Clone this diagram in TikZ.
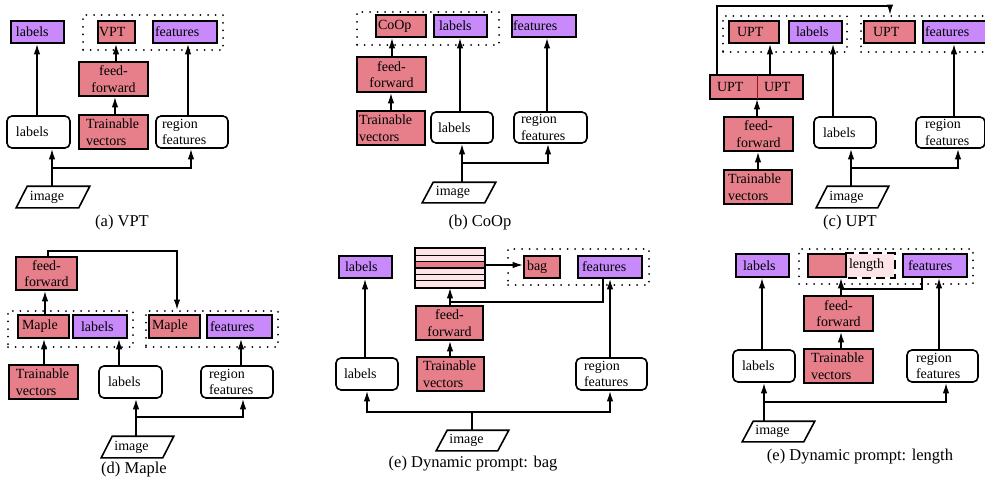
\documentclass[tikz,border=0pt]{standalone}
\usepackage{fontspec}
\setmainfont{Liberation Serif}
\usetikzlibrary{arrows.meta,calc}
\definecolor{pinkc}{HTML}{E67F8A}
\definecolor{purpc}{HTML}{C88AFA}
\definecolor{lpink}{HTML}{FCE4E8}
\definecolor{dred}{HTML}{8B1A1A}
\tikzset{
 bxbase/.style={inner ysep=0pt, align=left, font=\fontsize{14}{16.5}\selectfont, line width=1.6pt},
 pbox/.style={draw, fill=pinkc},
 vbox/.style={draw, fill=purpc},
 wbox/.style={draw, fill=white, rounded corners=5pt},
 dotbox/.style={draw, line width=2pt, dash pattern=on 0pt off 7.6pt, line cap=round},
 conn/.style={line width=1.6pt},
 arr/.style={conn, -{Latex[length=10.5pt,width=6.5pt]}},
 captxt/.style={font=\fontsize{16.5}{19}\selectfont},
}
\newcommand\bx[8][1]{%
 \pgfmathsetmacro\bxw{#6-#4-2*#1}%
 \pgfmathsetmacro\bxh{#7-#5}%
 \pgfmathsetmacro\bxx{(#4+#6)/2}%
 \pgfmathsetmacro\bxy{(#5+#7)/2}%
 \node[bxbase,#2,inner xsep=#1pt,text width=\bxw pt,minimum height=\bxh pt] (#3) at (\bxx,\bxy) {#8};}
\newcommand\imgnode[5]{%
 \bx{align=center}{#1}{#2}{#3}{#4}{#5}{\hspace*{-12pt}image}%
 \draw[conn] (#1.south west) -- ([xshift=11pt]#1.north west) -- (#1.north east) -- ([xshift=-11pt]#1.south east) -- cycle;}
\begin{document}
\hyphenpenalty=10000
\begin{tikzpicture}[x=1pt,y=-1pt]
\useasboundingbox (0,0) rectangle (985,479);
\clip (0,0) rectangle (985,479);
% ---------------- (a) VPT
\bx[5]{vbox}{labPA}{11}{21}{64}{43}{labels}
\bx{dotbox}{gA}{83}{15}{223}{50}{}
\bx[1]{pbox}{vptA}{98}{21}{135}{43}{VPT}
\bx[2]{vbox}{featA}{153}{21}{217}{43}{features}
\bx{pbox,align=center}{ffA}{79}{62}{148}{96}{feed-\\forward}
\bx[7]{pbox}{tvA}{79}{115}{148}{149}{Trainable\\vectors}
\bx[9]{wbox}{labWA}{7}{116}{70}{148}{labels}
\bx[6]{wbox}{regA}{156}{116}{228}{148}{region\\features}
\imgnode{imgA}{17}{187}{89}{207}
\draw[arr] (imgA.north -| 52,0) -- (labWA.south -| 52,0);
\draw[arr] (imgA.north -| 52,0) |- (191,168) -- (regA.south -| 191,0);
\draw[arr] (labWA.north -| 37,0) -- (labPA.south -| 37,0);
\draw[arr] (tvA.north -| 115,0) -- (ffA.south -| 115,0);
\draw[arr] (ffA.north -| 116,0) -- (vptA.south -| 116,0);
\draw[arr] (regA.north -| 188,0) -- (featA.south -| 188,0);
\node[captxt] (capA) at (122,223) {(a) VPT};
% ---------------- (b) CoOp
\bx{dotbox}{gB}{357}{12}{499}{45}{}
\bx[2]{pbox}{coB}{376}{15}{426}{37}{CoOp}
\bx[5]{vbox}{labPB}{434}{15}{487}{37}{labels}
\bx[1]{vbox}{featB}{512}{15}{576}{37}{features}
\bx{pbox,align=center}{ffB}{357}{57}{426}{92}{feed-\\forward}
\bx[2]{pbox}{tvB}{357}{111}{425}{145}{Trainable\\vectors}
\bx[7]{wbox}{labWB}{431}{112}{493}{143}{labels}
\bx[7]{wbox}{regB}{514}{112}{587}{143}{region\\features}
\imgnode{imgB}{423}{183}{495}{202}
\draw[arr] (imgB.north -| 462,0) -- (labWB.south -| 462,0);
\draw[arr] (imgB.north -| 462,0) |- (548,163) -- (regB.south -| 548,0);
\draw[arr] (labWB.north -| 460,0) -- (labPB.south -| 460,0);
\draw[arr] (regB.north -| 547,0) -- (featB.south -| 547,0);
\draw[arr] (tvB.north -| 391,0) -- (ffB.south -| 391,0);
\draw[arr] (ffB.north -| 392,0) -- (coB.south -| 392,0);
\node[captxt] (capB) at (480,223) {(b) CoOp};
% ---------------- (c) UPT
\bx{dotbox}{g1C}{723}{16}{847}{52}{}
\bx{dotbox}{g2C}{861}{16}{995}{52}{}
\bx[8]{pbox}{uptC}{729}{21}{779}{43}{UPT}
\bx[7]{vbox}{labPC}{789}{21}{842}{43}{labels}
\bx[9]{pbox}{upt2C}{864}{21}{915}{43}{UPT}
\bx[2]{vbox}{featC}{923}{21}{987}{43}{features}
\bx[6]{fill=pinkc}{upL}{711}{76}{757}{98}{UPT}
\bx[7]{fill=pinkc}{upR}{757}{76}{802}{98}{UPT}
\draw[conn] (upL.north west) rectangle (upR.south east);
\draw[dred, line width=0.8pt] (upL.north east) -- (upL.south east);
\bx{pbox,align=center}{ffC}{724}{117}{793}{151}{feed-\\forward}
\bx[4]{pbox}{tvC}{724}{170}{792}{204}{Trainable\\vectors}
\bx[9]{wbox}{labWC}{814}{117}{876}{148}{labels}
\bx[9]{wbox}{regC}{916}{117}{985}{148}{region\\features}
\imgnode{imgC}{817}{187}{888}{207}
\draw[arr] (imgC.north -| 851,0) -- (labWC.south -| 851,0);
\draw[arr] (imgC.north -| 851,0) |- (958,168) -- (regC.south -| 958,0);
\draw[arr] (labWC.north -| 833,0) -- (labPC.south -| 833,0);
\draw[arr] (regC.north -| 954,0) -- (featC.south -| 954,0);
\draw[arr] (tvC.north -| 758,0) -- (ffC.south -| 758,0);
\draw[arr] (ffC.north -| 757,0) -- (upL.south -| 757,0);
\draw[arr] (upR.north -| 770,0) -- (uptC.south -| 770,0);
\draw[arr] (upL.north -| 717,0) |- (890,6) -- (g2C.north -| 890,0);
\node[captxt] (capC) at (850,223) {(c) UPT};
% ---------------- (d) Maple
\bx{pbox,align=center}{ffD}{16}{257}{77}{290}{feed-\\forward}
\bx{dotbox}{g1D}{8}{311}{133}{347}{}
\bx[4]{pbox}{mapD1}{18}{315}{69}{338}{Maple}
\bx[8]{vbox}{labPD}{73}{315}{127}{338}{labels}
\bx{dotbox}{g2D}{146}{311}{278}{347}{}
\bx[3]{pbox}{mapD2}{149}{315}{200}{338}{Maple}
\bx[3]{vbox}{featD}{207}{315}{272}{338}{features}
\bx[7]{pbox}{tvD}{9}{365}{78}{399}{Trainable\\vectors}
\bx[9]{wbox}{labWD}{99}{366}{162}{398}{labels}
\bx[8]{wbox}{regD}{201}{366}{273}{398}{region\\features}
\imgnode{imgD}{102}{437}{173}{457}
\draw[arr] (imgD.north -| 136,0) -- (labWD.south -| 136,0);
\draw[arr] (imgD.north -| 136,0) |- (243,417) -- (regD.south -| 243,0);
\draw[arr] (labWD.north -| 119,0) -- (labPD.south -| 119,0);
\draw[arr] (regD.north -| 241,0) -- (featD.south -| 241,0);
\draw[arr] (tvD.north -| 44,0) -- (mapD1.south -| 44,0);
\draw[arr] (mapD1.north -| 45,0) -- (ffD.south -| 45,0);
\draw[arr] (ffD.north -| 48,0) |- (177,251) -- (g2D.north -| 177,0);
\node[captxt] (capD) at (134,470) {(d) Maple};
% ---------------- (e) Dynamic prompt: bag
\bx[6]{vbox}{labPE}{339}{256}{392}{278}{labels}
\bx{}{stackE}{416}{249}{484}{287}{}
\foreach \i/\c in {0/lpink,1/lpink,2/pinkc,3/lpink,4/lpink,5/lpink}
  \fill[\c] (416,{249+\i*38/6}) rectangle (484,{249+(\i+1)*38/6});
\foreach \i in {1,...,5}
  \draw[conn] (416,{249+\i*38/6}) -- (484,{249+\i*38/6});
\draw[conn] (stackE.north west) rectangle (stackE.south east);
\bx{dotbox}{gE}{508}{249}{649}{285}{}
\bx[3]{pbox}{bagE}{524}{256}{560}{278}{bag}
\bx[4]{vbox}{featE}{578}{256}{642}{278}{features}
\bx{pbox,align=center}{ffE}{416}{306}{483}{340}{feed-\\forward}
\bx[6]{pbox}{tvE}{417}{357}{484}{391}{Trainable\\vectors}
\bx[8]{wbox}{labWE}{336}{358}{398}{390}{labels}
\bx[8]{wbox}{regE}{576}{358}{647}{390}{region\\features}
\imgnode{imgE}{437}{431}{508}{450}
\draw[arr] (imgE.north -| 472,0) |- (367,412) -- (labWE.south -| 367,0);
\draw[arr] (imgE.north -| 472,0) |- (610,412) -- (regE.south -| 610,0);
\draw[arr] (labWE.north -| 365,0) -- (labPE.south -| 365,0);
\draw[arr] (regE.north -| 610,0) -- (featE.south -| 610,0);
\draw[arr] (tvE.north -| 450,0) -- (ffE.south -| 450,0);
\draw[arr] (ffE.north -| 450,0) -- (stackE.south -| 450,0);
\draw[conn] (featE.south -| 603,0) |- (450,302);
\draw[arr] (stackE.east |- 0,265) -- (bagE.west |- 0,265);
\node[captxt] (capE) at (473,464) {(e) Dynamic prompt: bag};
% ---------------- (e) Dynamic prompt: length
\bx[7]{vbox}{labPF}{736}{254}{789}{277}{labels}
\bx{dotbox}{gF}{799}{249}{973}{284}{}
\bx[3]{fill=lpink}{lenF}{846}{254}{894}{277}{length}
\draw[conn, dash pattern=on 9pt off 5pt] (lenF.north west) -- (lenF.north east) -- (lenF.south east) -- (lenF.south west);
\bx{pbox}{pkF}{808}{254}{846}{277}{}
\bx[5]{vbox}{featF}{903}{254}{967}{277}{features}
\bx{pbox,align=center}{ffF}{804}{296}{873}{331}{feed-\\forward}
\bx[7]{pbox}{tvF}{804}{349}{873}{383}{Trainable\\vectors}
\bx[9]{wbox}{labWF}{733}{350}{795}{382}{labels}
\bx[9]{wbox}{regF}{907}{350}{978}{382}{region\\features}
\imgnode{imgF}{743}{422}{814}{441}
\draw[arr] (imgF.north -| 764,0) -- (labWF.south -| 764,0);
\draw[arr] (imgF.north -| 764,0) |- (946,402) -- (regF.south -| 946,0);
\draw[arr] (labWF.north -| 762,0) -- (labPF.south -| 762,0);
\draw[arr] (regF.north -| 939,0) -- (featF.south -| 939,0);
\draw[arr] (tvF.north -| 841,0) -- (ffF.south -| 841,0);
\draw[arr] (ffF.north -| 841,0) -- (pkF.south -| 841,0);
\draw[conn] (featF.south -| 922,0) |- (841,289);
\node[captxt] (capF) at (860,457) {(e) Dynamic prompt: length};
\end{tikzpicture}
\end{document}
